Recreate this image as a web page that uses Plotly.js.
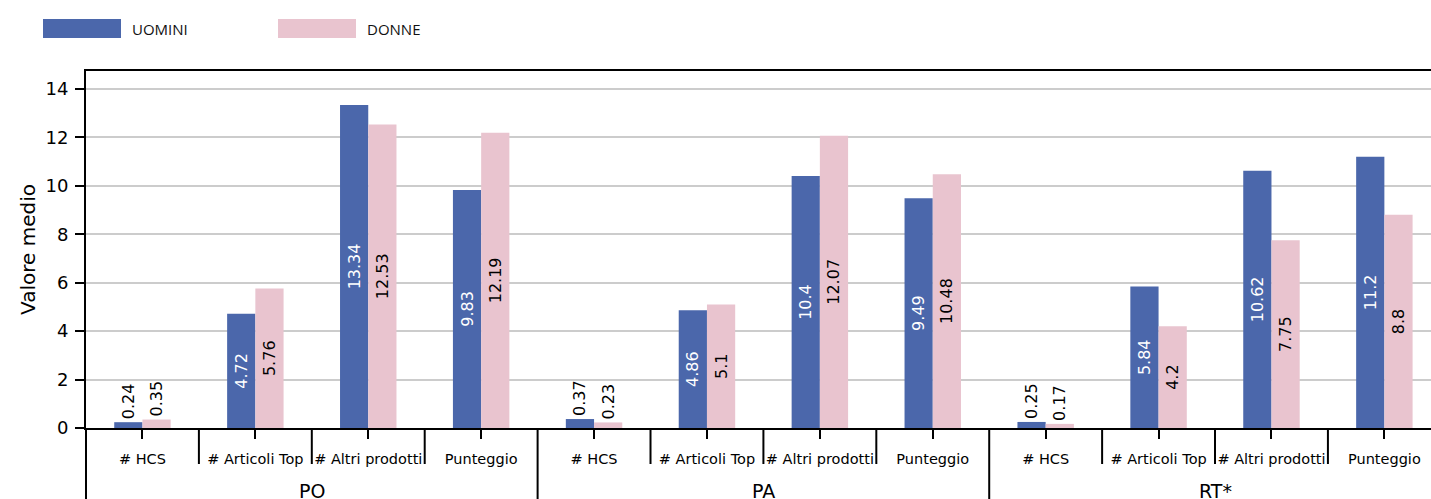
<!DOCTYPE html>
<html>
<head>
<meta charset="utf-8">
<script src="https://cdn.plot.ly/plotly-3.0.1.min.js"></script>
<style>html,body{margin:0;padding:0;background:#fff;}#chart{width:1431px;height:499px;}</style>
</head>
<body>
<div id="chart"></div>
<script>
// ---- data ----
const groups = ["PO", "PA", "RT*"];
const subCategories = ["# HCS", "# Articoli Top", "# Altri prodotti", "Punteggio"];
const seriesNames = ["UOMINI", "DONNE"];
const uomini = [0.24, 4.72, 13.34, 9.83,  0.37, 4.86, 10.4, 9.49,  0.25, 5.84, 10.62, 11.2];
const donne  = [0.35, 5.76, 12.53, 12.19, 0.23, 5.1, 12.07, 10.48, 0.17, 4.2, 7.75, 8.8];
const yTicks = [0, 2, 4, 6, 8, 10, 12, 14];

// ---- styles ----
const colors = ["#4b67ab", "#e9c4cf"];
const insideColors = ["#ffffff", "#000000"];
const FONT = "DejaVu Sans, sans-serif";
const W = 1431, H = 499;
const M = {l: 86, r: 0, t: 71, b: 71};
const plotW = W - M.l - M.r, plotH = H - M.t - M.b;
const xRange = [-0.5, 11.413];
const yRange = [0, 14.74];

const nSub = subCategories.length;
const xIdx = [];
const tickText = [];
groups.forEach((g, gi) => subCategories.forEach((s, si) => { xIdx.push(gi * nSub + si); tickText.push(s); }));

function xPaper(v) { return (v - xRange[0]) / (xRange[1] - xRange[0]); }
function yPaperPx(py) { return (H - M.b - py) / plotH; }

const seriesValues = [uomini, donne];
const traces = seriesValues.map((vals, i) => ({
  type: "bar",
  name: seriesNames[i],
  x: xIdx,
  y: vals,
  marker: {color: colors[i], line: {width: 0}},
  text: vals.map(v => String(v)),
  textposition: vals.map(v => v < 1 ? "outside" : "inside"),
  insidetextanchor: "middle",
  textangle: -90,
  constraintext: "none",
  cliponaxis: false,
  insidetextfont: {family: FONT, size: 16, color: insideColors[i]},
  outsidetextfont: {family: FONT, size: 16, color: "#000000"},
  hoverinfo: "x+y",
  showlegend: false
}));

const shapes = [];
const annotations = [];
// separators between categories
for (let k = 0; k <= xIdx.length; k++) {
  const isGroup = k % nSub === 0;
  const xp = xPaper(k - 0.5);
  if (xp > 1.001) continue;
  shapes.push({
    type: "line", xref: "paper", yref: "paper",
    x0: xp, x1: xp, y0: 0, y1: isGroup ? yPaperPx(510) : yPaperPx(464),
    line: {color: "#000000", width: 2}, layer: "above"
  });
}
// group labels
groups.forEach((g, gi) => {
  annotations.push({
    xref: "paper", yref: "paper",
    x: xPaper(gi * nSub + (nSub - 1) / 2), y: yPaperPx(491),
    text: g, showarrow: false, xanchor: "center", yanchor: "middle",
    font: {family: FONT, size: 19, color: "#000000"}
  });
});
// custom legend
const legendX = [43, 278];
seriesNames.forEach((n, i) => {
  const x0 = (legendX[i] - M.l) / plotW;
  const x1 = (legendX[i] + 78 - M.l) / plotW;
  shapes.push({
    type: "rect", xref: "paper", yref: "paper",
    x0: x0, x1: x1, y0: yPaperPx(38), y1: yPaperPx(19),
    fillcolor: colors[i], line: {width: 0}, layer: "above"
  });
  annotations.push({
    xref: "paper", yref: "paper",
    x: (legendX[i] + 87 - M.l) / plotW, y: yPaperPx(29),
    text: n, showarrow: false, xanchor: "left", yanchor: "middle",
    font: {family: "Open Sans, sans-serif", size: 15, color: "#111111"}
  });
});

const layout = {
  width: W, height: H,
  margin: M,
  paper_bgcolor: "#ffffff", plot_bgcolor: "#ffffff",
  barmode: "group", bargap: 0.5, bargroupgap: 0,
  showlegend: false,
  font: {family: FONT, color: "#000000"},
  xaxis: {
    type: "linear", range: xRange, autorange: false,
    tickmode: "array", tickvals: xIdx, ticktext: tickText,
    ticks: "outside", ticklen: 9, tickwidth: 2, tickcolor: "#000000",
    ticklabelstandoff: 8,
    tickfont: {family: FONT, size: 14.5, color: "#000000"},
    showline: true, linewidth: 2, linecolor: "#000000", mirror: true,
    showgrid: false, zeroline: false, automargin: false
  },
  yaxis: {
    range: yRange, autorange: false,
    tickmode: "array", tickvals: yTicks,
    ticks: "outside", ticklen: 9, tickwidth: 2, tickcolor: "#000000",
    ticklabelstandoff: 3,
    tickfont: {family: FONT, size: 18, color: "#000000"},
    showline: true, linewidth: 2, linecolor: "#000000", mirror: false,
    showgrid: true, gridcolor: "#cccccc", gridwidth: 1.5,
    zeroline: false, automargin: false,
    title: {text: "Valore medio", font: {family: FONT, size: 20, color: "#000000"}, standoff: 4}
  },
  shapes: shapes,
  annotations: annotations
};

Plotly.newPlot("chart", traces, layout, {displayModeBar: false, responsive: false});
</script>
</body>
</html>
